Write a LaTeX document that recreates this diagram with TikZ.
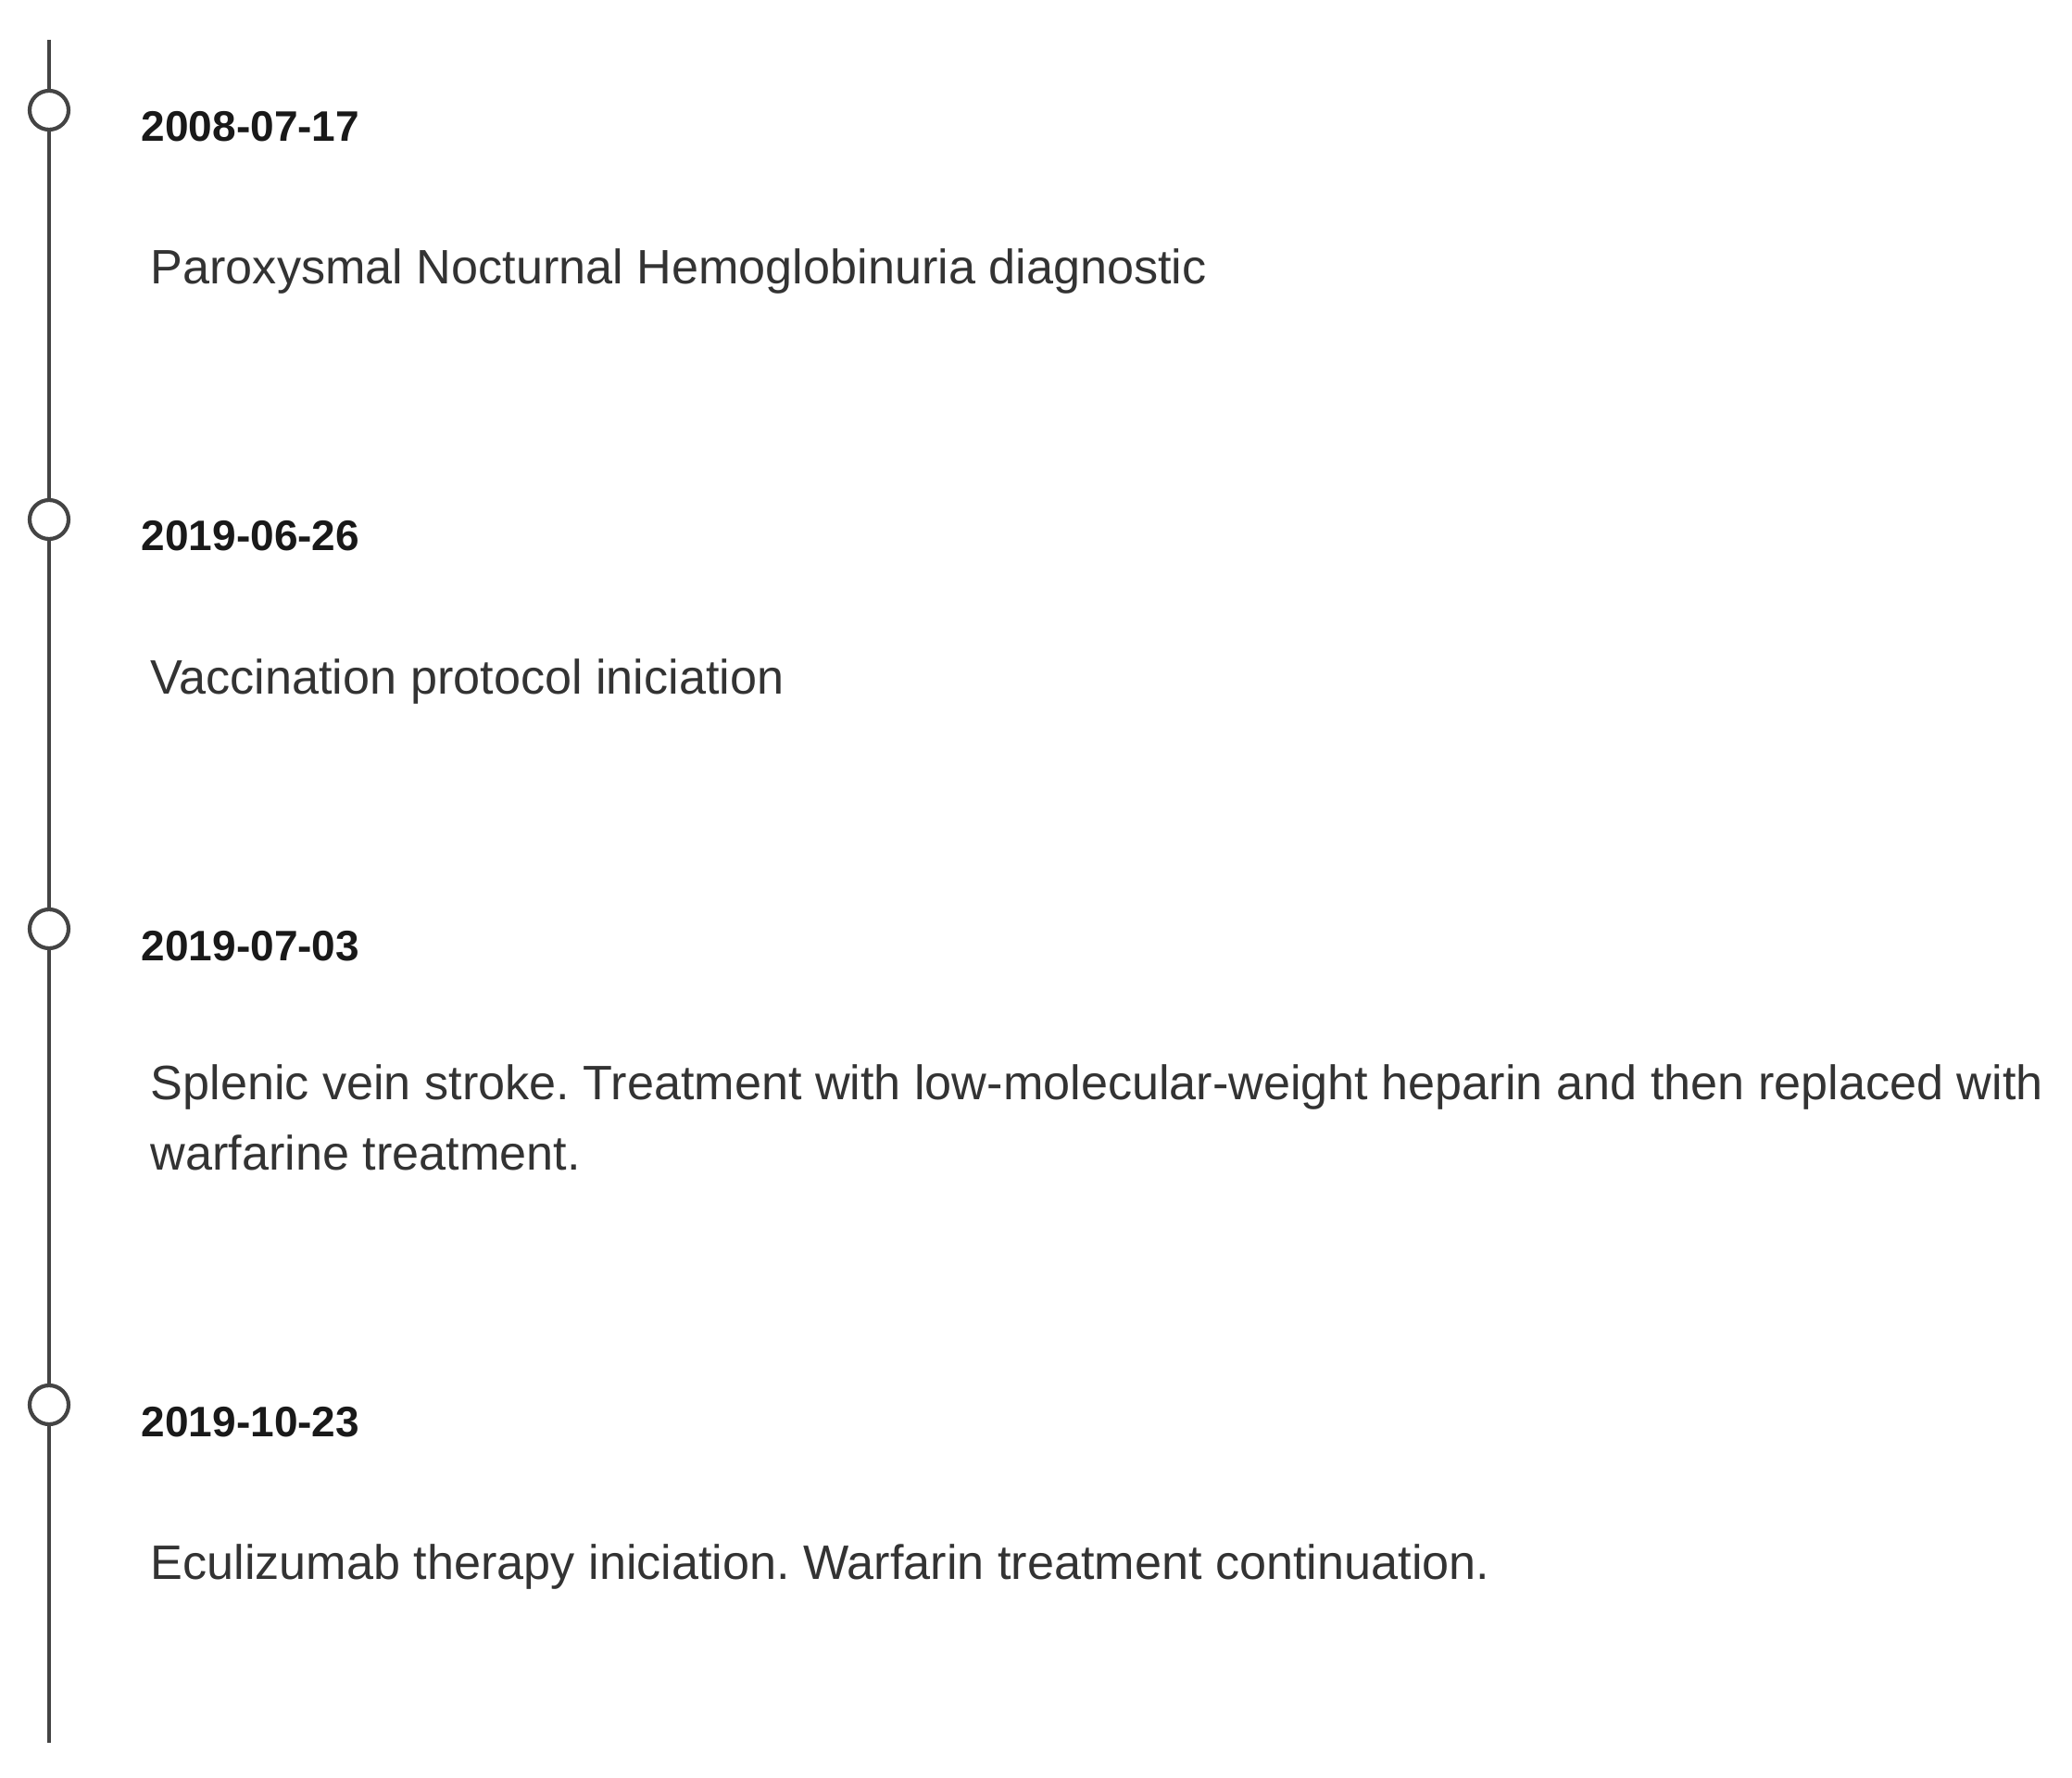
\documentclass[tikz,border=0pt]{standalone}
\usepackage{fontspec}
\setmainfont{Liberation Sans}
\frenchspacing
\definecolor{linegray}{HTML}{444444}
\definecolor{textgray}{HTML}{333333}
\tikzset{evt/.style={circle,draw=linegray,fill=white,line width=1.2pt,minimum size=0.42cm,inner sep=0pt}}
\tikzset{dat/.style={anchor=base west,inner sep=0pt,font=\fontsize{13.1pt}{15pt}\selectfont\bfseries,text=black!90}}
\tikzset{txt/.style={anchor=base west,inner sep=0pt,align=left,font=\fontsize{14.85pt}{21.5pt}\selectfont,text=textgray}}

\begin{document}
\begin{tikzpicture}
      \useasboundingbox (0,0) rectangle (22.37,-19.20);
      \pgfmathsetmacro{\lx}{0.53}
      \pgfmathsetmacro{\dx}{1.52}
      \pgfmathsetmacro{\tx}{1.62}

      \coordinate (top) at (\lx,-0.43);
      \coordinate (bot) at (\lx,-18.82);
      \node[evt] (e1) at (\lx,-1.19) {};
      \node[evt] (e2) at (\lx,-5.61) {};
      \node[evt] (e3) at (\lx,-10.03) {};
      \node[evt] (e4) at (\lx,-15.17) {};

      \draw[linegray,line width=1.2pt] (top) -- (e1) -- (e2) -- (e3) -- (e4) -- (bot);

      \node[dat] (d1) at (\dx,-1.53) {2008-07-17};
      \node[txt] (t1) at (\tx,-3.07) {Paroxysmal Nocturnal Hemoglobinuria diagnostic};

      \node[dat] (d2) at (\dx,-5.95) {2019-06-26};
      \node[txt] (t2) at (\tx,-7.49) {Vaccination protocol iniciation};

      \node[dat] (d3) at (\dx,-10.37) {2019-07-03};
      \node[txt] (t3) at (\tx,-12.63) {Splenic vein stroke. Treatment with low-molecular-weight heparin and then replaced with\\warfarine treatment.};

      \node[dat] (d4) at (\dx,-15.51) {2019-10-23};
      \node[txt] (t4) at (\tx,-17.05) {Eculizumab therapy iniciation. Warfarin treatment continuation.};

    \end{tikzpicture}
\end{document}
